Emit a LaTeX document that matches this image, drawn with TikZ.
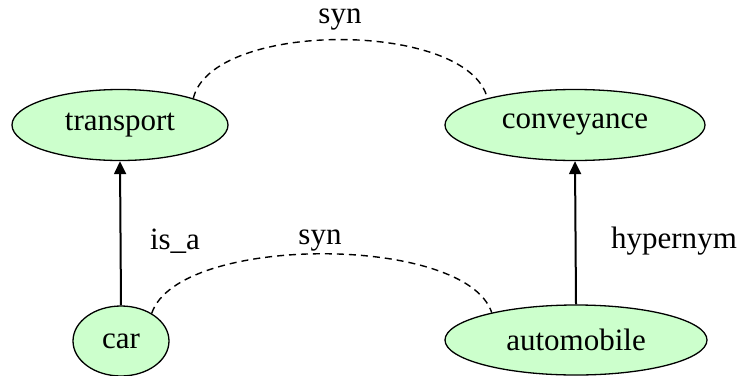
\documentclass[tikz,border=0pt]{standalone}
\usepackage{fontspec}
\setmainfont{Liberation Serif}
\usetikzlibrary{shapes.geometric,arrows.meta}
\definecolor{nodegreen}{HTML}{CCFFCC}
\begin{document}
\begin{tikzpicture}[x=1pt,y=-1pt,
  concept/.style={ellipse,draw=black,line width=1.3pt,fill=nodegreen,inner sep=0pt,
    minimum height=71pt,font=\fontsize{31}{36}\selectfont},
  relation/.style={line width=2pt,-{Triangle[length=13pt,width=12pt]}},
  synlink/.style={line width=1.4pt,dash pattern=on 7pt off 5pt},
  lbl/.style={font=\fontsize{31}{36}\selectfont,inner sep=0pt}]
\useasboundingbox (0,0) rectangle (738,375);
\node[concept,minimum width=216pt] (transport) at (120,125) {transport};
\node[concept,minimum width=260pt] (conveyance) at (575,125) {conveyance};
\node[concept,minimum width=96pt,minimum height=70pt] (car) at (121,341) {car};
\node[concept,minimum width=262pt,minimum height=70pt] (automobile) at (576,340) {automobile};
% hierarchy links
\draw[relation] (car.north) -- (transport.south);
\draw[relation] (automobile.north) -- (conveyance.south);
% synonym links
\draw[synlink] (transport.20) .. controls (212,20) and (468,20) .. (conveyance.163);
\draw[synlink] (car.42) .. controls (178,234) and (466,234) .. (automobile.162);
% labels
\node[lbl] (synA) at (340,20) {syn};
\node[lbl] (synB) at (320,241) {syn};
\node[lbl] (isa) at (175,241) {is\_a};
\node[lbl] (hyp) at (674,241) {hypernym};
\end{tikzpicture}
\end{document}
